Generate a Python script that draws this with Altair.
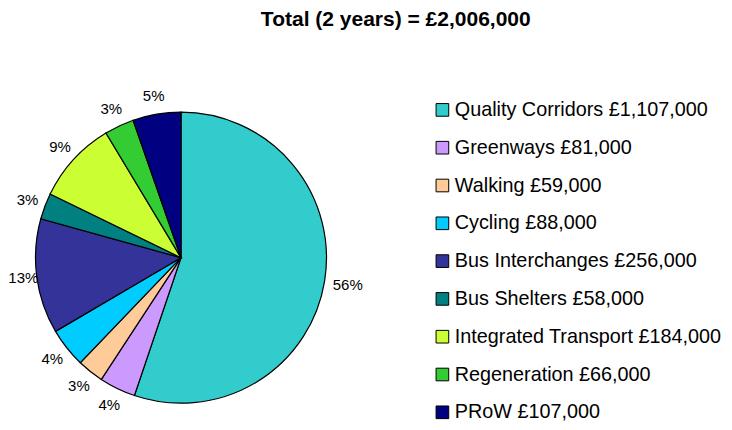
import altair as alt
import pandas as pd

categories = ["Quality Corridors", "Greenways", "Walking", "Cycling", "Bus Interchanges",
              "Bus Shelters", "Integrated Transport", "Regeneration", "PRoW"]
values = [1107000, 81000, 59000, 88000, 256000, 58000, 184000, 66000, 107000]
pct_labels = ["56%", "4%", "3%", "4%", "13%", "3%", "9%", "3%", "5%"]
colors = ["#33CCCC", "#CC99FF", "#FFCC99", "#00CCFF", "#333399",
          "#008080", "#CCFF33", "#33CC33", "#000080"]
title_text = "Total (2 years) = £2,006,000"

legend_labels = [f"{c} £{v:,}" for c, v in zip(categories, values)]
df = pd.DataFrame({
    "idx": list(range(len(categories))),
    "category": legend_labels,
    "value": values,
    "pct": pct_labels,
})

FONT = "Liberation Sans"
CX, CY, R = 173, 249.7, 145.5

pie = alt.Chart(df).mark_arc(radius=R, stroke="black", strokeWidth=1.2).encode(
    theta=alt.Theta("value:Q", stack=True),
    order=alt.Order("idx:Q"),
    x=alt.value(CX),
    y=alt.value(CY),
    color=alt.Color(
        "category:N",
        scale=alt.Scale(domain=legend_labels, range=colors),
        sort=None,
        legend=alt.Legend(
            title=None,
            orient="none",
            legendX=424.5,
            legendY=92,
            padding=0,
            symbolType="square",
            symbolSize=160,
            symbolStrokeColor="black",
            symbolStrokeWidth=1,
            labelFont=FONT,
            labelFontSize=19.8,
            labelColor="black",
            labelOffset=2.5,
            rowPadding=16.8,
            labelLimit=400,
        ),
    ),
)

stacked = (
    alt.Chart(df)
    .transform_stack(stack="value", as_=["v0", "v1"], groupby=[],
                     sort=[alt.SortField("idx", order="ascending")])
    .transform_joinaggregate(total="sum(value)")
    .transform_calculate(ang="PI * (datum.v0 + datum.v1) / datum.total")
)

def pct_layer(radius, cond):
    return stacked.transform_filter(cond).mark_text(
        radius=radius, font=FONT, fontSize=15, color="black",
        align="center", baseline="middle"
    ).encode(
        theta=alt.Theta("ang:Q", scale=None),
        x=alt.value(CX),
        y=alt.value(CY),
        text="pct:N",
    )

labels_main = pct_layer(164, "datum.idx != 0 && datum.idx != 4")
labels_big = pct_layer(169, "datum.idx == 0")
labels_left = pct_layer(159, "datum.idx == 4")

title = alt.Chart(alt.Data(values=[{"t": title_text}])).mark_text(
    font=FONT, fontSize=21, fontWeight="bold", color="black",
    align="center", baseline="alphabetic"
).encode(
    text="t:N",
    x=alt.value(387.8),
    y=alt.value(18),
)

chart = alt.layer(pie, labels_main, labels_big, labels_left, title).properties(
    width=716, height=414,
    autosize=alt.AutoSizeParams(type="none"),
    padding=0,
).configure_view(stroke=None)

chart.save("out.html", embed_options={"renderer": "svg", "actions": False})
